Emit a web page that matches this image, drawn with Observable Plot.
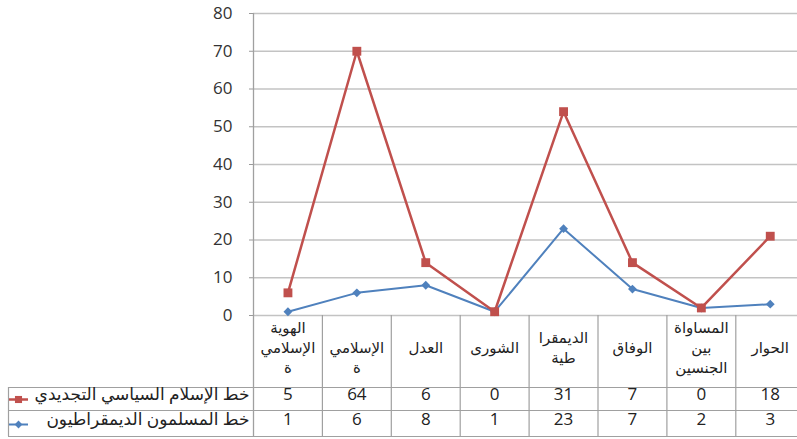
<!DOCTYPE html>
<html>
<head>
<meta charset="utf-8">
<script src="https://cdn.jsdelivr.net/npm/d3@7"></script>
<script src="https://cdn.jsdelivr.net/npm/@observablehq/plot@0.6"></script>
<style>
  html, body { margin: 0; padding: 0; background: #fff; }
</style>
</head>
<body>
<div id="chart"></div>
<script>
// ---- data ----
// category labels as wrapped in the source table (one entry per column, lines split by "\n")
const categories = ["الهوية\nالإسلامي\nة", "\nالإسلامي\nة", "العدل", "الشورى", "الديمقرا\nطية", "الوفاق", "المساواة\nبين\nالجنسين", "الحوار"];
const redName = "خط الإسلام السياسي التجديدي";
const blueName = "خط المسلمون الديمقراطيون";
const redValues = [5, 64, 6, 0, 31, 7, 0, 18];
const blueValues = [1, 6, 8, 1, 23, 7, 2, 3];
const yTicks = [0, 10, 20, 30, 40, 50, 60, 70, 80];

// ---- layout / style ----
const RED = "#c0504d", BLUE = "#4f81bd";
const GRID = "#c3c3c3", TABLE = "#a0a0a0";
const W = 797, H = 439, mL = 253, mT = 13, mB = 124;
const colW = 68.9;
const font = "'Open Sans', 'DejaVu Sans', sans-serif";
const frameH = H - mB - mT;
const LINE_GAP = 20;

// stacked line chart (as in the source): red line drawn at blue + red
const blueRows = categories.map((c, i) => ({x: i + 0.5, v: blueValues[i]}));
const redRows = categories.map((c, i) => ({x: i + 0.5, v: blueValues[i] + redValues[i]}));

// header label lines, each with an offset from the header row's centre
const headerLines = categories.flatMap((c, i) => {
  const parts = c.split("\n");
  const n = parts.length;
  return parts.map((t, k) => ({x: i + 0.5, t, off: (k - (n - 1) / 2) * LINE_GAP})).filter(d => d.t);
});
const offsets = [...new Set(headerLines.map(d => d.off))];

const tableLines = [72, 95, 121];

const chart = Plot.plot({
  width: W, height: H,
  marginLeft: mL, marginRight: 0, marginTop: mT, marginBottom: mB,
  style: {fontFamily: font, fontSize: "16px", color: "#404040", background: "#fff", overflow: "visible"},
  x: {type: "linear", domain: [0, 8], range: [mL, mL + 8 * colW], axis: null},
  y: {domain: [0, 80], axis: null, label: null},
  marks: [
    // gridlines
    Plot.ruleY(yTicks, {stroke: GRID, strokeWidth: 1.3}),
    // y axis
    Plot.axisY(yTicks, {label: null, tickSize: 4, tickPadding: 17, stroke: "#999", fontSize: 17, fill: "#333"}),
    // left axis line extended through table
    Plot.ruleX([0], {stroke: TABLE, strokeWidth: 1.3, insetBottom: -(mB - 3)}),
    // table vertical lines
    Plot.ruleX(d3.range(1, 8), {stroke: TABLE, strokeWidth: 1.2, insetTop: frameH, insetBottom: -(mB - 3)}),
    // legend column left border
    Plot.ruleX([0], {stroke: TABLE, strokeWidth: 1.2, dx: -245, insetTop: frameH + 72, insetBottom: -(mB - 3)}),
    // table horizontal lines
    ...tableLines.map(d => Plot.ruleY([0], {stroke: TABLE, strokeWidth: 1.2, dy: d, insetLeft: -245, insetRight: -10})),
    // data lines
    Plot.line(blueRows, {x: "x", y: "v", stroke: BLUE, strokeWidth: 2}),
    Plot.dot(blueRows, {x: "x", y: "v", symbol: "diamond2", r: 4, fill: BLUE, stroke: null}),
    Plot.line(redRows, {x: "x", y: "v", stroke: RED, strokeWidth: 2.5}),
    Plot.dot(redRows, {x: "x", y: "v", symbol: "square", r: 5, fill: RED, stroke: null}),
    // header labels (one mark per line offset)
    ...offsets.map(o => Plot.text(headerLines.filter(d => d.off === o), {x: "x", text: "t", frameAnchor: "bottom", dy: 37 + o, fontSize: 15, fill: "#222"})),
    // values rows
    Plot.text(redValues, {x: (d, i) => i + 0.5, text: d => String(d), frameAnchor: "bottom", dy: 84, fontSize: 17, fill: "#222"}),
    Plot.text(blueValues, {x: (d, i) => i + 0.5, text: d => String(d), frameAnchor: "bottom", dy: 109, fontSize: 17, fill: "#222"}),
    // legend labels
    Plot.text([redName], {frameAnchor: "bottom-left", dx: -4, dy: 84, textAnchor: "end", fontSize: 17, fill: "#222"}),
    Plot.text([blueName], {frameAnchor: "bottom-left", dx: -4, dy: 109, textAnchor: "end", fontSize: 17, fill: "#222"}),
    // legend markers
    Plot.ruleY([0], {stroke: RED, strokeWidth: 2.5, dy: 84, insetLeft: -244, insetRight: W - 28}),
    Plot.dot([redName], {frameAnchor: "bottom-left", dx: -235, dy: 84, symbol: "square", r: 4, fill: RED}),
    Plot.ruleY([0], {stroke: BLUE, strokeWidth: 2, dy: 109, insetLeft: -244, insetRight: W - 28}),
    Plot.dot([blueName], {frameAnchor: "bottom-left", dx: -235, dy: 109, symbol: "diamond2", r: 3.5, fill: BLUE})
  ]
});
document.getElementById("chart").appendChild(chart);
</script>
</body>
</html>
